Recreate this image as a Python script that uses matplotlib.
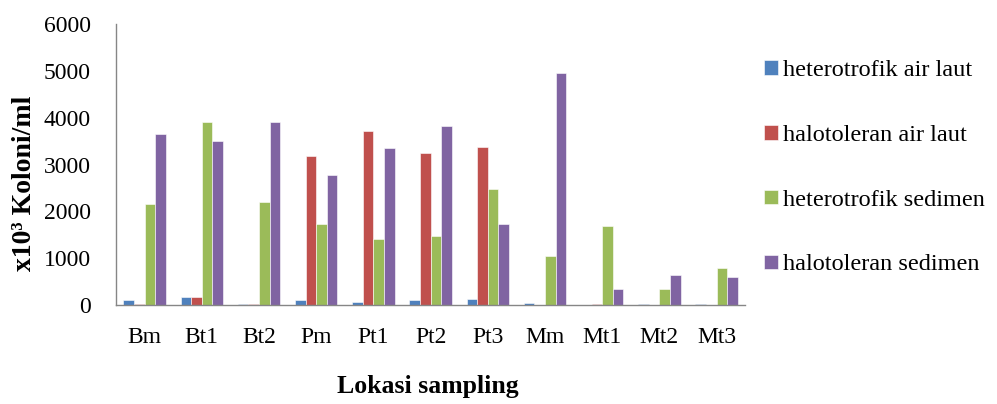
import numpy as np
import matplotlib
matplotlib.use('Agg')
import matplotlib.pyplot as plt

plt.rcParams['font.family'] = ['Liberation Serif', 'DejaVu Serif']

# lokasi sampling
lokasi = ['Bm', 'Bt1', 'Bt2', 'Pm', 'Pt1', 'Pt2', 'Pt3', 'Mm', 'Mt1', 'Mt2', 'Mt3']

# nilai tiap seri (x10^3 koloni/ml)
hetero_air = [110, 170, 30, 110, 75, 100, 120, 40, 0, 30, 30]
halo_air = [30, 170, 30, 3180, 3720, 3250, 3380, 0, 30, 0, 0]
hetero_sed = [2150, 3900, 2190, 1730, 1400, 1470, 2470, 1050, 1680, 350, 800]
halo_sed = [3650, 3500, 3900, 2780, 3350, 3820, 1730, 4950, 350, 650, 600]

seri = ['heterotrofik air laut', 'halotoleran air laut',
        'heterotrofik sedimen', 'halotoleran sedimen']
warna = ['#4F81BD', '#C0504D', '#9BBB59', '#8064A2']

fig = plt.figure(figsize=(9.97, 4.04), dpi=100)
ax = fig.add_axes([0.1164, 0.245, 0.631, 0.6956])

x = np.arange(len(lokasi))
w = 0.185
data = [hetero_air, halo_air, hetero_sed, halo_sed]
for i, (vals, lab, c) in enumerate(zip(data, seri, warna)):
    ax.bar(x + (i - 1.5) * w, vals, w, color=c, label=lab,
           edgecolor='white', linewidth=0.4)

ax.set_xlim(-0.5, len(lokasi) - 0.5)
ax.set_ylim(0, 6000)
ax.set_yticks(range(0, 6001, 1000))
ax.set_xticks(x)
ax.set_xticklabels(lokasi)

for s in ['top', 'right']:
    ax.spines[s].set_visible(False)
for s in ['left', 'bottom']:
    ax.spines[s].set_color('#868686')
    ax.spines[s].set_linewidth(1.0)
ax.tick_params(axis='both', length=0, labelsize=17)
ax.tick_params(axis='y', pad=18)
ax.tick_params(axis='x', pad=16)

ax.set_ylabel('x10³ Koloni/ml', fontsize=20, fontweight='bold')
ax.yaxis.set_label_coords(-0.125, 0.434)
ax.set_xlabel('Lokasi sampling', fontsize=18.5, fontweight='bold')
ax.xaxis.set_label_coords(0.495, -0.25)

fig.legend(loc='upper left', bbox_to_anchor=(0.757, 0.875), frameon=False,
           fontsize=17.5, handlelength=0.55, handleheight=0.55,
           handletextpad=0.2, labelspacing=1.8, borderaxespad=0)

plt.savefig('out.png', dpi=100)
plt.close()
